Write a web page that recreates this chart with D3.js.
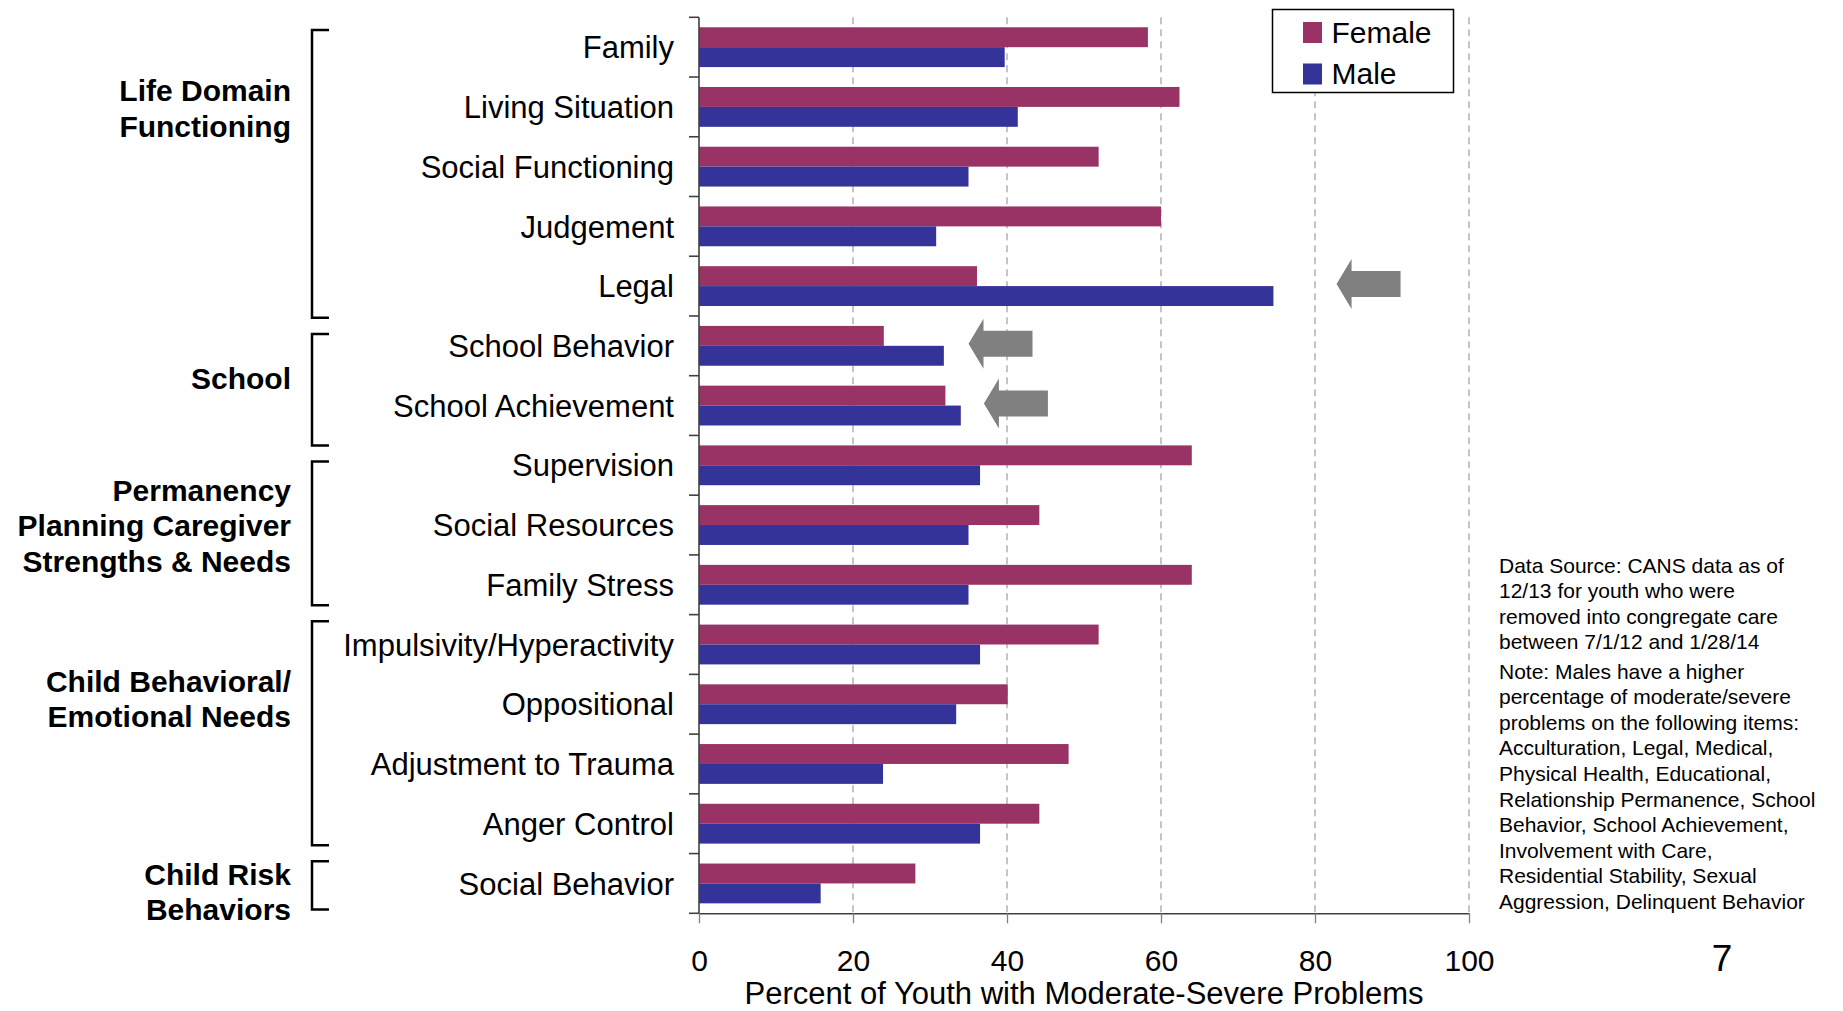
<!DOCTYPE html>
<html>
<head>
<meta charset="utf-8">
<script src="https://cdn.jsdelivr.net/npm/d3@7"></script>
<style>
  body { margin: 0; background: #fff; }
  svg text { font-family: "Liberation Sans", Arial, Helvetica, sans-serif; fill: #000; }
  .group-label { font-weight: 700; }
</style>
</head>
<body>
<svg id="chart" width="1843" height="1011"></svg>
<script>
// Chart data
const categories = ["Family", "Living Situation", "Social Functioning", "Judgement", "Legal",
  "School Behavior", "School Achievement", "Supervision", "Social Resources", "Family Stress",
  "Impulsivity/Hyperactivity", "Oppositional", "Adjustment to Trauma", "Anger Control", "Social Behavior"];
const female = [58.3, 62.4, 51.9, 60.0, 36.1, 24.0, 32.0, 64.0, 44.2, 64.0, 51.9, 40.1, 48.0, 44.2, 28.1];
const male   = [39.7, 41.4, 35.0, 30.8, 74.6, 31.8, 34.0, 36.5, 35.0, 35.0, 36.5, 33.4, 23.9, 36.5, 15.8];
const seriesNames = ["Female", "Male"];
const xTicks = [0, 20, 40, 60, 80, 100];
const xTitle = "Percent of Youth with Moderate-Severe Problems";

// Domain groups shown with brackets on the left
const groupNames = [["Life Domain", "Functioning"], ["School"],
  ["Permanency", "Planning Caregiver", "Strengths & Needs"],
  ["Child Behavioral/", "Emotional Needs"], ["Child Risk", "Behaviors"]];
const groupFirst = ["Family", "School Behavior", "Supervision", "Impulsivity/Hyperactivity", "Social Behavior"];
const groupLast  = ["Legal", "School Achievement", "Family Stress", "Anger Control", "Social Behavior"];

// Items where males are higher (grey arrows); tip at this percent
const arrowItems = ["Legal", "School Behavior", "School Achievement"];
const arrowTips  = [82.8, 35.0, 37.0];

const sourceLines = ["Data Source: CANS data as of", "12/13 for youth who were",
  "removed into congregate care", "between 7/1/12 and 1/28/14"];
const noteLines = ["Note: Males have a higher", "percentage of moderate/severe",
  "problems on the following items:", "Acculturation, Legal, Medical,",
  "Physical Health, Educational,", "Relationship Permanence, School",
  "Behavior, School Achievement,", "Involvement with Care,",
  "Residential Stability, Sexual", "Aggression, Delinquent Behavior"];
const pageNumber = "7";

const colors = { Female: "#993366", Male: "#333399" };

const svg = d3.select("#chart");
const plot = { left: 699, right: 1469, top: 17.3, bottom: 913.3 };

const rows = categories.map((c, i) => ({ cat: c, Female: female[i], Male: male[i] }));

const x = d3.scaleLinear().domain([0, 100]).range([plot.left, plot.right]);
const y = d3.scaleBand().domain(categories).range([plot.top, plot.bottom]).padding(0);
const yInner = d3.scaleBand().domain(seriesNames).range([0, y.bandwidth()]).paddingInner(0).paddingOuter(0.5);

// Dashed gridlines
svg.append("g")
  .selectAll("line")
  .data(xTicks.filter(d => d > 0))
  .join("line")
  .attr("x1", d => x(d)).attr("x2", d => x(d))
  .attr("y1", plot.top).attr("y2", plot.bottom)
  .attr("stroke", "#a6a6a6")
  .attr("stroke-width", 1.3)
  .attr("stroke-dasharray", "7 5");

// Bars
const rowG = svg.append("g")
  .selectAll("g")
  .data(rows)
  .join("g")
  .attr("transform", d => "translate(0," + y(d.cat) + ")");

rowG.selectAll("rect")
  .data(d => seriesNames.map(s => ({ s: s, v: d[s] })))
  .join("rect")
  .attr("x", x(0))
  .attr("y", d => yInner(d.s))
  .attr("width", d => x(d.v) - x(0))
  .attr("height", yInner.bandwidth())
  .attr("fill", d => colors[d.s]);

// X axis
const xAxis = d3.axisBottom(x).tickValues(xTicks).tickSize(10).tickSizeOuter(0).tickPadding(26);
const xg = svg.append("g")
  .attr("transform", "translate(0," + plot.bottom + ")")
  .call(xAxis);
xg.select(".domain").attr("stroke", "#404040").attr("stroke-width", 1.6);
xg.selectAll(".tick line").attr("stroke", "#808080").attr("stroke-width", 1.3);
xg.selectAll(".tick text")
  .style("font-family", "'Liberation Sans', Arial, sans-serif")
  .style("font-size", "30px")
  .attr("fill", "#000");

svg.append("text")
  .attr("x", (plot.left + plot.right) / 2)
  .attr("y", 1004)
  .attr("text-anchor", "middle")
  .style("font-size", "31px")
  .text(xTitle);

// Y axis line and boundary ticks
svg.append("line")
  .attr("x1", plot.left).attr("x2", plot.left)
  .attr("y1", plot.top).attr("y2", plot.bottom)
  .attr("stroke", "#404040").attr("stroke-width", 1.6);

svg.append("g")
  .selectAll("line")
  .data(categories.map(c => y(c)).concat([plot.bottom]))
  .join("line")
  .attr("x1", plot.left - 10).attr("x2", plot.left)
  .attr("y1", d => d).attr("y2", d => d)
  .attr("stroke", "#404040").attr("stroke-width", 1.6);

// Category labels
svg.append("g")
  .selectAll("text")
  .data(categories)
  .join("text")
  .attr("x", 674)
  .attr("y", d => y(d) + y.bandwidth() / 2)
  .attr("dy", "0.36em")
  .attr("text-anchor", "end")
  .style("font-size", "31px")
  .text(d => d);

// Group brackets and labels
const labelRows = [1.52, 6.04, 8.51, 11.41, 14.64]; // label centres, in rows
const bracketTopIn = [12.7, 18, 26, 6.7, 7.7];
const bracketBotOut = [1.7, 10, -9.3, -8.3, -3.7];
const bx = 312, bTick = 17, lineGap = 35.3;
groupNames.forEach((lines, i) => {
  const top = y(groupFirst[i]) + bracketTopIn[i];
  const bot = y(groupLast[i]) + y.bandwidth() + bracketBotOut[i];
  svg.append("path")
    .attr("d", "M" + (bx + bTick) + "," + top + "H" + bx + "V" + bot + "H" + (bx + bTick))
    .attr("fill", "none")
    .attr("stroke", "#000")
    .attr("stroke-width", 2.5);
  const cy = plot.top + labelRows[i] * y.step();
  svg.append("g")
    .selectAll("text")
    .data(lines)
    .join("text")
    .attr("class", "group-label")
    .attr("x", 291)
    .attr("y", (d, j) => cy + (j - (lines.length - 1) / 2) * lineGap)
    .attr("dy", "0.36em")
    .attr("text-anchor", "end")
    .style("font-size", "30px")
    .text(d => d);
});

// Grey arrows
const arrowLen = 64, headLen = 15, headH = 50, shaftH = 26;
arrowItems.forEach((c, i) => {
  const tx = x(arrowTips[i]);
  const cy = y(c) + y.bandwidth() / 2 - 2;
  const pts = [
    [tx, cy],
    [tx + headLen, cy - headH / 2],
    [tx + headLen, cy - shaftH / 2],
    [tx + arrowLen, cy - shaftH / 2],
    [tx + arrowLen, cy + shaftH / 2],
    [tx + headLen, cy + shaftH / 2],
    [tx + headLen, cy + headH / 2]
  ];
  svg.append("path")
    .attr("d", d3.line()(pts) + "Z")
    .attr("fill", "#808080");
});

// Legend
const lg = svg.append("g").attr("transform", "translate(1272.5,9.5)");
lg.append("rect")
  .attr("width", 181).attr("height", 83)
  .attr("fill", "#fff").attr("stroke", "#000").attr("stroke-width", 1.5);
seriesNames.forEach((s, i) => {
  lg.append("rect")
    .attr("x", 30.5).attr("y", 12.5 + i * 41.5)
    .attr("width", 19).attr("height", 21)
    .attr("fill", colors[s]);
  lg.append("text")
    .attr("x", 59).attr("y", 33 + i * 41.5)
    .style("font-size", "30px")
    .text(s);
});

// Source and note
svg.append("g")
  .selectAll("text")
  .data(sourceLines)
  .join("text")
  .attr("x", 1499)
  .attr("y", (d, i) => 572.5 + i * 25.6)
  .style("font-size", "21px")
  .text(d => d);
svg.append("g")
  .selectAll("text")
  .data(noteLines)
  .join("text")
  .attr("x", 1499)
  .attr("y", (d, i) => 678.5 + i * 25.6)
  .style("font-size", "21px")
  .text(d => d);

svg.append("text")
  .attr("x", 1722).attr("y", 971)
  .attr("text-anchor", "middle")
  .style("font-size", "37px")
  .text(pageNumber);
</script>
</body>
</html>
